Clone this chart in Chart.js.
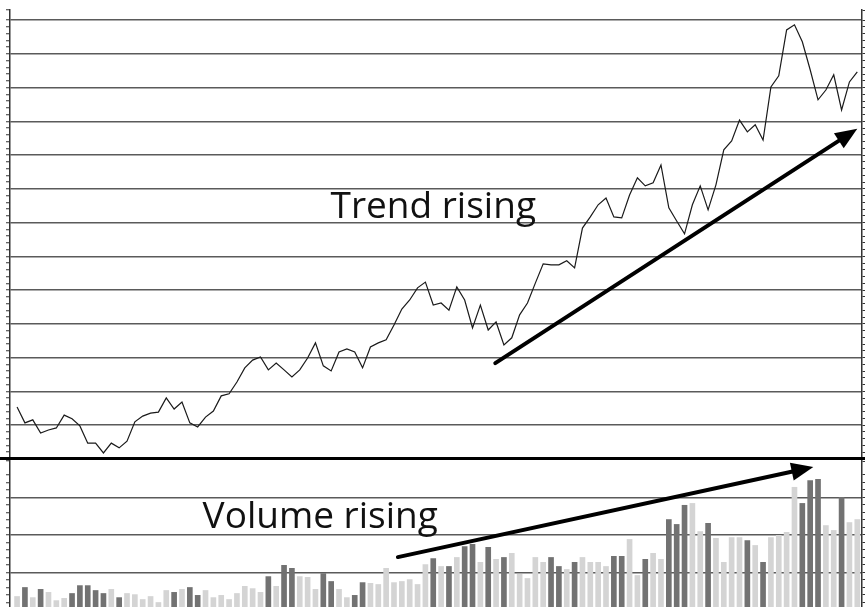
<!DOCTYPE html>
<html lang="en">

<head>
    <meta charset="UTF-8">
    <title>Trend rising / Volume rising</title>
    <style>
        body {
            margin: 0;
            background: #fff;
            overflow: hidden;
            width: 865px;
            height: 607px;
            position: relative;
        }

        #priceBox {
            position: absolute;
            left: 0;
            top: 0;
            width: 865px;
            height: 460px;
        }

        #volBox {
            position: absolute;
            left: 0;
            top: 460px;
            width: 865px;
            height: 150px;
        }

        #divider {
            position: absolute;
            left: 0;
            top: 457px;
            width: 865px;
            height: 3px;
            background: #000;
        }
    </style>
</head>

<body>
    <div id="priceBox"><canvas id="priceChart"></canvas></div>
    <div id="volBox"><canvas id="volumeChart"></canvas></div>
    <div id="divider"></div>

    <script src="https://cdn.jsdelivr.net/npm/chart.js"></script>
    <script>
        // closing price, one value per session
        const price = [
            1.54, 1.07, 1.16, 0.77, 0.86, 0.92, 1.30, 1.19, 0.98, 0.47,
            0.47, 0.18, 0.47, 0.33, 0.53, 1.10, 1.27, 1.36, 1.39, 1.81,
            1.48, 1.69, 1.07, 0.95, 1.24, 1.42, 1.87, 1.93, 2.28, 2.70,
            2.93, 3.02, 2.64, 2.84, 2.64, 2.43, 2.64, 2.99, 3.44, 2.76,
            2.61, 3.17, 3.26, 3.17, 2.70, 3.32, 3.44, 3.53, 3.97, 4.44,
            4.71, 5.07, 5.24, 4.56, 4.62, 4.41, 5.10, 4.71, 3.88, 4.56,
            3.82, 4.06, 3.38, 3.59, 4.27, 4.62, 5.21, 5.78, 5.75, 5.75,
            5.87, 5.66, 6.84, 7.17, 7.53, 7.73, 7.17, 7.14, 7.82, 8.33,
            8.09, 8.18, 8.71, 7.44, 7.05, 6.67, 7.53, 8.09, 7.38, 8.12,
            9.16, 9.42, 10.04, 9.69, 9.90, 9.45, 11.02, 11.35, 12.71, 12.86,
            12.36, 11.53, 10.64, 10.93, 11.38, 10.34, 11.17, 11.47
        ];

        // traded volume per session
        const volume = [
            3.6, 6.0, 3.3, 5.5, 4.7, 2.5, 3.1, 4.4, 6.5, 6.5, 5.2, 4.4, 5.5, 3.3, 4.4, 4.1, 2.8,
            3.6, 2.0, 5.2, 4.7, 5.5, 6.0, 3.9, 5.2, 3.3, 3.9, 2.8, 4.4, 6.3, 5.7, 4.7, 8.9, 6.3, 11.9, 11.1,
            8.9, 8.7, 5.5, 9.7, 7.6, 5.5, 3.3, 3.9, 7.3, 7.1, 6.8, 11.1, 7.3, 7.6, 8.1, 6.8, 12.1, 13.7,
            11.6, 11.6, 14.0, 16.9, 17.5, 12.7, 16.7, 13.5, 14.0, 15.1, 9.5, 8.4, 14.0, 12.7, 14.0, 11.6, 10.8, 12.7, 14.0,
            12.7, 12.7, 11.6, 14.3, 14.3, 18.8, 9.2, 13.5, 15.1, 13.5, 24.1, 22.8, 27.9, 28.4, 20.9, 23.1, 19.1, 12.7,
            19.3, 19.3, 18.5, 17.2, 12.7, 19.3, 19.9, 20.7, 32.7, 28.4, 34.5, 34.8, 22.5, 21.2, 30.0, 23.3, 24.1
        ];

        // 1 = dark bar, 0 = light bar
        const volumeDark = [
            0, 1, 0, 1, 0, 0, 0, 1, 1, 1, 1, 1, 0, 1, 0, 0, 0,
            0, 0, 0, 1, 0, 1, 1, 0, 0, 0, 0, 0, 0, 0, 0, 1, 0, 1, 1,
            0, 0, 0, 1, 1, 0, 0, 1, 1, 0, 0, 0, 0, 0, 0, 0, 0, 1,
            0, 1, 0, 1, 1, 0, 1, 0, 1, 0, 0, 0, 0, 0, 1, 1, 0, 1, 0,
            0, 0, 0, 1, 1, 0, 0, 1, 0, 0, 1, 1, 1, 0, 0, 1, 0, 0,
            0, 0, 1, 0, 1, 0, 0, 0, 0, 1, 1, 1, 0, 0, 1, 0, 0
        ];

        const days = price.map((_, i) => i);

        // arrows and captions drawn on top of the data
        const markup = {
            id: 'markup',
            afterDatasetsDraw(chart, args, opts) {
                const { ctx, scales: { x, y } } = chart;
                const a = opts.arrow;
                const x1 = x.getPixelForValue(a.from[0]), y1 = y.getPixelForValue(a.from[1]);
                const x2 = x.getPixelForValue(a.to[0]), y2 = y.getPixelForValue(a.to[1]);
                const ang = Math.atan2(y2 - y1, x2 - x1);
                const c = Math.cos(ang), s = Math.sin(ang);
                const head = 22, half = 9;
                ctx.save();
                ctx.strokeStyle = '#000';
                ctx.fillStyle = '#000';
                ctx.lineWidth = a.width;
                ctx.lineCap = 'round';
                ctx.beginPath();
                ctx.moveTo(x1, y1);
                ctx.lineTo(x2 - head * 0.8 * c, y2 - head * 0.8 * s);
                ctx.stroke();
                ctx.beginPath();
                ctx.moveTo(x2, y2);
                ctx.lineTo(x2 - head * c + half * s, y2 - head * s - half * c);
                ctx.lineTo(x2 - head * c - half * s, y2 - head * s + half * c);
                ctx.closePath();
                ctx.fill();

                const l = opts.label;
                ctx.font = '37px "Open Sans"';
                ctx.textAlign = 'center';
                ctx.textBaseline = 'alphabetic';
                ctx.fillStyle = '#111';
                ctx.fillText(l.text, x.getPixelForValue(l.at[0]), y.getPixelForValue(l.at[1]));
                ctx.restore();
            }
        };

        const isWhole = (v, step) => Math.abs(v / step - Math.round(v / step)) < 1e-6;

        // price panel
        new Chart(document.getElementById('priceChart'), {
            type: 'line',
            data: {
                datasets: [{
                    data: days.map(i => ({ x: i, y: price[i] })),
                    borderColor: '#1a1a1a',
                    borderWidth: 1.2,
                    pointRadius: 0,
                    tension: 0
                }]
            },
            options: {
                responsive: true,
                maintainAspectRatio: false,
                animation: false,
                layout: { padding: { left: 6, top: 10, right: 0, bottom: 1 } },
                plugins: {
                    legend: { display: false },
                    tooltip: { enabled: false },
                    markup: {
                        arrow: { from: [60.9, 2.84], to: [107.0, 9.78], width: 4 },
                        label: { text: 'Trend rising', at: [53, 7.14] }
                    }
                },
                scales: {
                    x: { type: 'linear', min: -0.9, max: 107.6, offset: false, display: false },
                    y: {
                        min: 0, max: 13.3,
                        ticks: { display: false, stepSize: 0.2 },
                        grid: {
                            color: ctx => isWhole(ctx.tick.value, 1) ? '#5a5a5a' : 'rgba(0,0,0,0)',
                            lineWidth: 1.5,
                            tickColor: '#333',
                            tickLength: 4,
                            tickWidth: 1
                        },
                        border: { color: '#333', width: 1.5 }
                    },
                    y2: {
                        position: 'right',
                        min: 0, max: 13.3,
                        ticks: { display: false, stepSize: 0.2 },
                        grid: { drawOnChartArea: false, tickColor: '#333', tickLength: 3, tickWidth: 1 },
                        border: { color: '#333', width: 1.5 }
                    }
                }
            },
            plugins: [markup]
        });

        // volume panel
        new Chart(document.getElementById('volumeChart'), {
            type: 'bar',
            data: {
                datasets: [{
                    data: days.map(i => ({ x: i, y: volume[i] })),
                    backgroundColor: volumeDark.map(d => d ? '#727272' : '#d4d4d4'),
                    barThickness: 5
                }]
            },
            options: {
                responsive: true,
                maintainAspectRatio: false,
                animation: false,
                layout: { padding: { left: 6, top: 1, right: 0, bottom: 0 } },
                plugins: {
                    legend: { display: false },
                    tooltip: { enabled: false },
                    markup: {
                        arrow: { from: [48.5, 14.1], to: [101.4, 38.1], width: 4 },
                        label: { text: 'Volume rising', at: [38.6, 21.9] }
                    }
                },
                scales: {
                    x: { type: 'linear', min: -0.9, max: 107.6, offset: false, grid: { offset: false }, display: false },
                    y: {
                        min: 0, max: 39.7,
                        ticks: { display: false, stepSize: 2 },
                        grid: {
                            color: ctx => (isWhole(ctx.tick.value, 10) && ctx.tick.value > 0) ? '#5a5a5a' : 'rgba(0,0,0,0)',
                            lineWidth: 1.5,
                            tickColor: '#333',
                            tickLength: 4,
                            tickWidth: 1
                        },
                        border: { color: '#333', width: 1.5 }
                    },
                    y2: {
                        position: 'right',
                        min: 0, max: 39.7,
                        ticks: { display: false, stepSize: 2 },
                        grid: { drawOnChartArea: false, tickColor: '#333', tickLength: 3, tickWidth: 1 },
                        border: { color: '#333', width: 1.5 }
                    }
                }
            },
            plugins: [markup]
        });
    </script>
</body>

</html>
